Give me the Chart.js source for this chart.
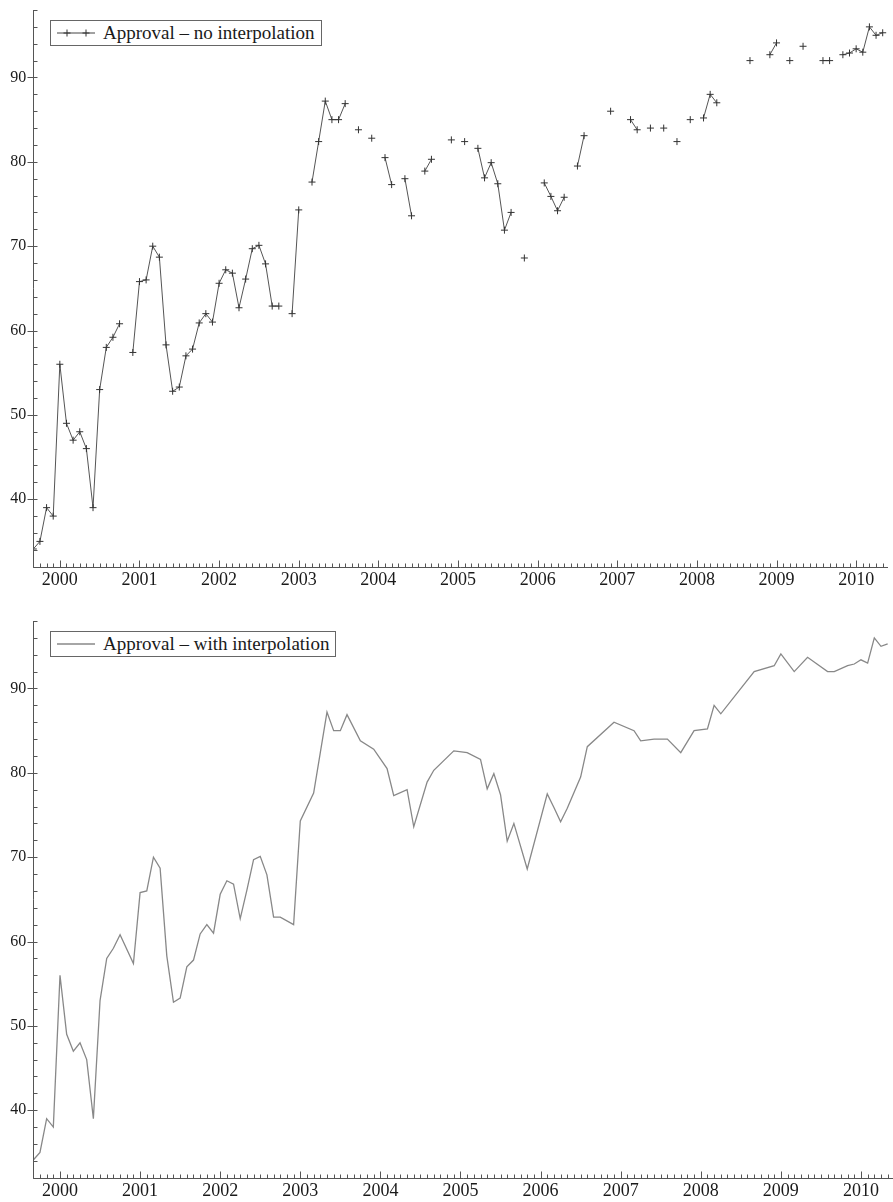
<!DOCTYPE html>
<html>
<head>
<meta charset="utf-8">
<title>Approval</title>
<script src="https://cdn.jsdelivr.net/npm/chart.js@4.4.1/dist/chart.umd.min.js"></script>
<style>
  html, body { margin: 0; padding: 0; background: #fff; overflow: hidden; }
  body { width: 893px; height: 1202px; position: relative; font-family: "Liberation Serif", "DejaVu Serif", serif; }
  .panel { position: absolute; left: 0; width: 893px; height: 600px; }
  .panel canvas { position: absolute; left: 0; top: 0; }
  .legend {
    position: absolute; left: 50px; top: 20px; height: 24px;
    border: 1px solid #666; background: #fff;
    display: flex; align-items: center; padding: 0 6px 0 6px;
    font-size: 19px; color: #1a1a1a; white-space: nowrap;
  }
  .legend svg { margin-right: 8px; }
</style>
</head>
<body>
<div class="panel" style="top:0">
  <canvas id="chartRaw" width="893" height="600"></canvas>
  <div class="legend">
    <svg width="38" height="10"><line x1="0" y1="5" x2="38" y2="5" stroke="#444" stroke-width="1"/><path d="M10 1.5V8.5M6.5 5H13.5M29 1.5V8.5M25.5 5H32.5" stroke="#333" stroke-width="1"/></svg>
    <span>Approval – no interpolation</span>
  </div>
</div>
<div class="panel" style="top:611px">
  <canvas id="chartInterp" width="893" height="600"></canvas>
  <div class="legend">
    <svg width="38" height="10"><line x1="0" y1="5" x2="38" y2="5" stroke="#888" stroke-width="1.3"/></svg>
    <span>Approval – with interpolation</span>
  </div>
</div>
<script>
// monthly series, first value is Sep 1999, last is May 2010; null = no poll that month
const firstYear = 1999
const firstMonth = 9
const approval = [
  34.1, 35, 39, 38,
  56, 49, 47, 48, 46, 39, 53, 58, 59.2, 60.8, null, 57.4,
  65.8, 66, 70, 68.7, 58.3, 52.8, 53.3, 57, 57.8, 60.9, 62, 61,
  65.6, 67.2, 66.8, 62.7, 66.1, 69.7, 70.1, 67.9, 62.9, 62.9, null, 62,
  74.3, null, 77.6, 82.4, 87.2, 85, 85, 86.9, null, 83.8, null, 82.8,
  null, 80.5, 77.3, null, 78, 73.6, null, 78.9, 80.3, null, null, 82.6,
  null, 82.4, null, 81.6, 78.1, 79.9, 77.4, 71.9, 74, null, 68.6, null,
  null, 77.5, 75.9, 74.2, 75.8, null, 79.5, 83.1, null, null, null, 86,
  null, null, 85, 83.8, null, 84, null, 84, null, 82.4, null, 85,
  null, 85.2, 88, 87, null, null, null, null, 92, null, null, 92.7,
  94.1, null, 92, null, 93.7, null, null, 92, 92, null, 92.7, 92.9,
  93.4, 93, 96, 95, 95.3
]
const yearTicks = [2000, 2001, 2002, 2003, 2004, 2005, 2006, 2007, 2008, 2009, 2010]
const valueTicks = [40, 50, 60, 70, 80, 90]

const AXIS_COLOR = "#555"
const TEXT_COLOR = "#1a1a1a"
const X_MIN = firstYear + (firstMonth - 1) / 12
const X_MAX = 2010.4
const Y_MIN = 32
const Y_MAX = 98

function monthPoints(values) {
  return values.map((v, i) => ({ x: X_MIN + i / 12, y: v }))
}

// axis lines plus the small monthly / 2-unit ticks
const axisTicks = {
  id: "axisTicks",
  afterDraw(chart) {
    const { ctx, chartArea } = chart
    const x = chart.scales.x
    const y = chart.scales.y
    ctx.save()
    ctx.strokeStyle = AXIS_COLOR
    ctx.lineWidth = 1
    ctx.beginPath()
    const left = Math.round(chartArea.left) + 0.5
    const bottom = Math.round(chartArea.bottom) + 0.5
    ctx.moveTo(left, chartArea.top)
    ctx.lineTo(left, bottom)
    ctx.lineTo(chartArea.right, bottom)

    for (let v = Math.ceil(Y_MIN / 2) * 2; v <= Y_MAX; v += 2) {
      const py = Math.round(y.getPixelForValue(v)) + 0.5
      const major = v % 10 === 0
      ctx.moveTo(major ? left - 6 : left, py)
      ctx.lineTo(left + 4, py)
    }
    const months = Math.floor((X_MAX - X_MIN) * 12 + 1e-6)
    for (let i = 0; i <= months; i++) {
      const val = X_MIN + i / 12
      const px = Math.round(x.getPixelForValue(val)) + 0.5
      const major = Math.abs(val - Math.round(val)) < 1e-6
      ctx.moveTo(px, bottom)
      ctx.lineTo(px, bottom - (major ? 7 : 4))
    }
    ctx.stroke()
    ctx.restore()
  }
}

function buildChart(canvas, dataset) {
  return new Chart(canvas, {
    type: "line",
    data: { datasets: [dataset] },
    options: {
      responsive: false,
      animation: false,
      events: [],
      layout: { padding: { top: 10, left: 0, right: 0, bottom: 0 } },
      plugins: {
        legend: { display: false },
        tooltip: { enabled: false }
      },
      scales: {
        x: {
          type: "linear",
          min: X_MIN,
          max: X_MAX,
          afterBuildTicks: (s) => { s.ticks = yearTicks.map((v) => ({ value: v })) },
          afterFit: (s) => {
            s.height = 33.3
            s.paddingLeft = 0
            s.paddingRight = 0
          },
          grid: { display: false, drawTicks: false },
          border: { display: false },
          ticks: {
            autoSkip: false,
            maxRotation: 0,
            padding: 3,
            color: TEXT_COLOR,
            font: { family: "'Liberation Serif', serif", size: 18 },
            callback: (v) => String(v)
          }
        },
        y: {
          min: Y_MIN,
          max: Y_MAX,
          afterBuildTicks: (s) => { s.ticks = valueTicks.map((v) => ({ value: v })) },
          afterFit: (s) => {
            s.width = 33.3
            s.paddingTop = 0
            s.paddingBottom = 0
          },
          grid: { display: false, drawTicks: false },
          border: { display: false },
          ticks: {
            padding: 7,
            color: TEXT_COLOR,
            font: { family: "'Liberation Serif', serif", size: 16 },
            callback: (v) => String(v)
          }
        }
      }
    },
    plugins: [axisTicks]
  })
}

buildChart(document.getElementById("chartRaw"), {
  label: "Approval – no interpolation",
  data: monthPoints(approval),
  borderColor: "#555",
  borderWidth: 1,
  pointStyle: "cross",
  pointRadius: 3.5,
  pointBorderColor: "#333",
  pointBorderWidth: 1,
  spanGaps: false
})

buildChart(document.getElementById("chartInterp"), {
  label: "Approval – with interpolation",
  data: monthPoints(approval),
  borderColor: "#888",
  borderWidth: 1.3,
  pointRadius: 0,
  spanGaps: true
})
</script>
</body>
</html>
